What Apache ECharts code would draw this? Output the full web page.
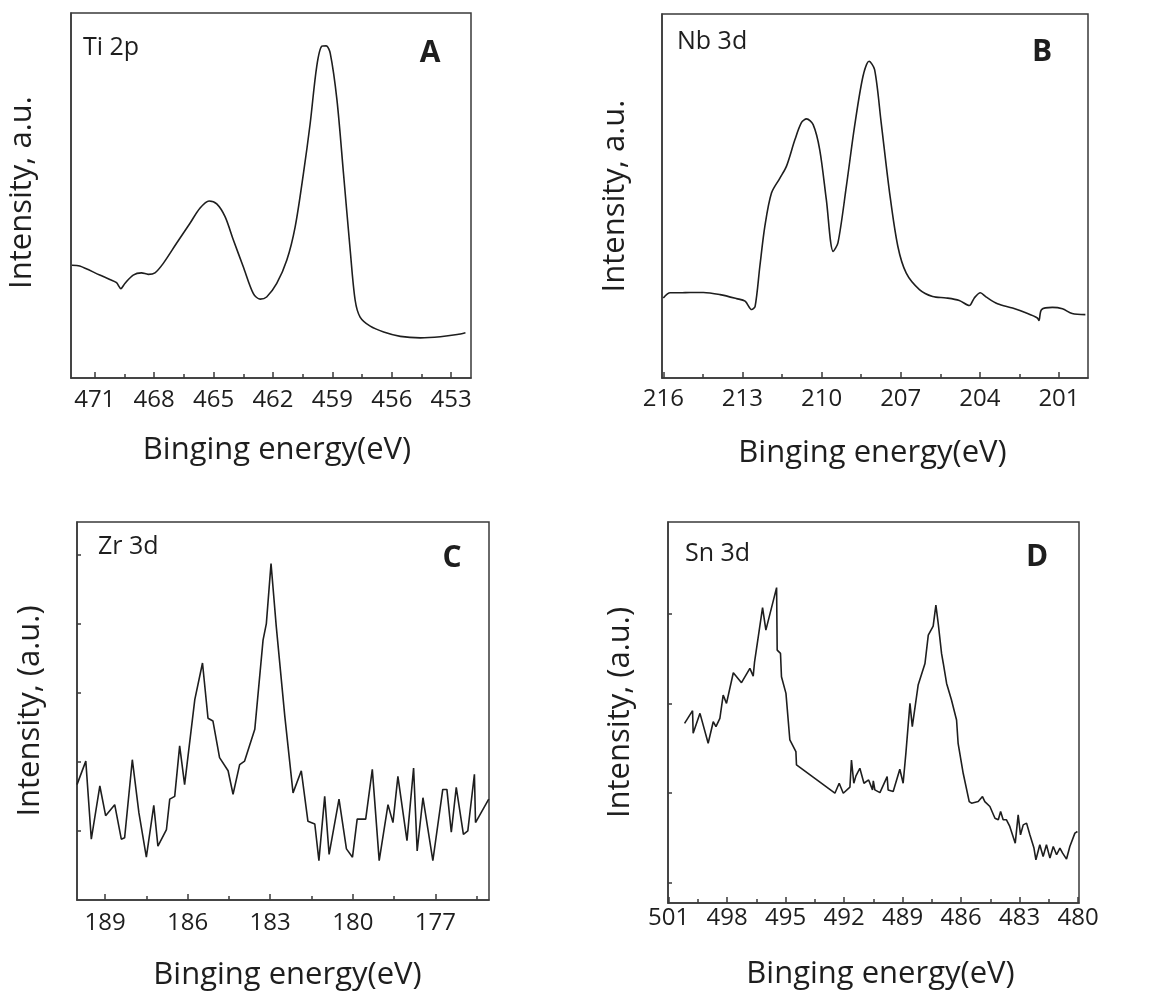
<!DOCTYPE html>
<html>
<head>
<meta charset="utf-8">
<script src="https://cdn.jsdelivr.net/npm/echarts@6/dist/echarts.min.js"></script>
<style>html,body{margin:0;padding:0;background:#fff}#c{width:1161px;height:992px}</style>
</head>
<body>
<div id="c"></div>
<script>
// ---- Panel A: Ti 2p ----
const tiEnergy = [472.15,471.76,470.75,470.24,469.9,469.68,469.48,469.06,468.64,468.3,467.96,467.54,466.87,466.19,465.69,465.23,464.84,464.42,464.0,463.5,462.99,462.65,462.32,461.81,461.3,460.88,460.46,460.12,459.79,459.53,459.31,459.11,458.77,458.44,458.1,457.85,457.6,457.09,456.41,455.57,454.56,453.55,452.7,452.28];
const tiIntensity = [30.9,30.7,28.2,27.0,26.1,24.5,25.9,28.2,28.8,28.4,28.8,31.4,36.9,42.4,46.5,48.5,47.7,44.2,37.8,30.5,23.1,21.6,22.2,25.9,32.3,41.4,56.1,69.8,85.4,90.9,91.0,89.0,76.2,56.1,35.0,21.3,16.7,14.2,12.6,11.4,11.0,11.3,11.9,12.4];
const tiTicks = [471,468,465,462,459,456,453];
const tiMinor = [469.5,466.5,463.5,460.5,457.5,454.5];

// ---- Panel B: Nb 3d ----
const nbEnergy = [216.0,215.74,215.36,214.98,214.48,213.85,213.22,212.9,212.65,212.52,212.34,212.15,211.9,211.58,211.33,211.01,210.76,210.57,210.32,210.07,209.82,209.56,209.38,209.06,208.75,208.43,208.2,207.99,207.74,207.42,207.11,206.79,206.29,205.79,205.28,204.78,204.4,204.21,203.98,203.77,203.33,202.76,202.26,201.82,201.76,201.66,201.25,200.87,200.5,200.0];
const nbIntensity = [22.0,23.4,23.4,23.5,23.5,22.9,21.8,21.1,18.8,19.7,30.7,41.7,50.8,54.9,58.2,65.5,70.2,71.2,69.6,62.7,49.0,34.8,37.1,52.7,69.1,82.9,87.0,84.7,70.1,50.8,36.2,28.8,24.3,22.4,22.0,21.3,19.9,22.0,23.4,22.3,20.4,19.2,17.9,16.5,15.8,18.8,19.4,19.0,17.7,17.4];
const nbTicks = [216,213,210,207,204,201];
const nbMinor = [214.5,211.5,208.5,205.5,202.5];

// ---- Panel C: Zr 3d ----
const zrEnergy = [190.02,189.7,189.5,189.19,188.98,188.65,188.41,188.29,188.01,187.77,187.5,187.23,187.08,186.77,186.65,186.47,186.29,186.11,185.74,185.46,185.26,185.08,184.84,184.53,184.35,184.11,183.93,183.56,183.26,183.14,182.97,182.78,182.47,182.17,181.87,181.63,181.38,181.23,181.02,180.86,180.5,180.23,180.01,179.84,179.53,179.29,179.04,178.72,178.54,178.36,178.03,177.79,177.66,177.45,177.09,176.73,176.58,176.42,176.24,175.98,175.82,175.58,175.54,175.06];
const zrIntensity = [1.67,2.01,0.88,1.65,1.22,1.38,0.88,0.90,2.03,1.26,0.62,1.37,0.78,1.02,1.46,1.5,2.23,1.67,2.9,3.43,2.63,2.59,2.06,1.87,1.53,1.96,2.01,2.47,3.76,4.0,4.87,3.96,2.66,1.55,1.87,1.14,1.10,0.57,1.5,0.66,1.46,0.74,0.62,1.17,1.17,1.89,0.57,1.38,1.12,1.79,0.86,1.91,0.71,1.48,0.57,1.6,1.6,0.98,1.63,0.95,1.0,1.82,1.12,1.46];
const zrTicks = [189,186,183,180,177];
const zrMinor = [187.5,184.5,181.5,178.5,175.5];
const zrYTicks = [1,2,3,4,5];

// ---- Panel D: Sn 3d ----
const snEnergy = [500.18,499.77,499.74,499.39,498.97,498.71,498.57,498.37,498.2,498.03,497.68,497.26,496.83,496.66,496.59,496.18,496.01,495.46,495.43,495.26,495.21,494.98,494.78,494.47,494.44,492.47,492.25,492.04,491.7,491.62,491.5,491.39,491.19,490.98,490.74,490.54,490.5,490.42,490.16,489.79,489.74,489.48,489.14,488.97,488.83,488.62,488.5,488.2,487.85,487.68,487.43,487.29,487.17,487.0,486.91,486.74,486.49,486.23,486.15,485.89,485.58,485.46,485.12,484.9,484.78,484.52,484.26,484.09,483.97,483.84,483.67,483.5,483.22,483.07,482.95,482.81,482.64,482.47,482.26,482.16,481.96,481.79,481.62,481.44,481.27,481.1,480.93,480.79,480.59,480.42,480.16,480.03];
const snIntensity = [1.778,1.919,1.667,1.889,1.556,1.796,1.741,1.833,2.093,2.0,2.341,2.23,2.389,2.304,2.463,3.067,2.815,3.289,2.593,2.556,2.296,2.111,1.593,1.463,1.315,1.0,1.111,1.0,1.067,1.370,1.111,1.193,1.278,1.111,1.148,1.037,1.137,1.037,1.007,1.185,1.037,1.019,1.267,1.111,1.444,2.0,1.741,2.204,2.444,2.759,2.859,3.093,2.889,2.556,2.444,2.222,2.037,1.815,1.556,1.222,0.907,0.889,0.907,0.963,0.907,0.852,0.722,0.704,0.796,0.704,0.704,0.63,0.444,0.759,0.537,0.648,0.667,0.537,0.389,0.259,0.426,0.296,0.426,0.278,0.407,0.315,0.389,0.333,0.267,0.407,0.556,0.574];
const snTicks = [501,498,495,492,489,486,483,480];
const snMinor = [499.5,496.5,493.5,490.5,487.5,484.5,481.5];
const snYTicks = [0,1,2,3];

const xTitle = 'Binging energy(eV)';
const FONT = '"Open Sans", "Noto Sans", sans-serif';
const INK = '#1e1e1e';
const FRAME = '#3a3a3a';

function pairs(xs, ys) { return xs.map((x, i) => [x, ys[i]]); }

const grids = [
  {left: 71, top: 13, width: 400, height: 365},
  {left: 662, top: 14, width: 426, height: 364},
  {left: 77, top: 522, width: 412, height: 379},
  {left: 668, top: 522, width: 411, height: 381}
].map(g => Object.assign(g, {show: true, borderColor: FRAME, borderWidth: 1.5, backgroundColor: 'transparent'}));

function majorX(gi, min, max, ticks, margin, nameGap, pad) {
  return {
    type: 'value', gridIndex: gi, inverse: true, min: min, max: max, position: 'bottom',
    name: xTitle, nameLocation: 'middle', nameGap: nameGap,
    nameTextStyle: {fontFamily: FONT, fontSize: 31, color: INK, padding: pad},
    axisLine: {show: true, onZero: false, lineStyle: {color: FRAME, width: 1.5}},
    axisTick: {show: true, inside: true, length: 6, customValues: ticks, lineStyle: {color: FRAME, width: 1.5}},
    axisLabel: {show: true, customValues: ticks, margin: margin, fontFamily: FONT, fontSize: 24, color: INK},
    splitLine: {show: false}
  };
}
function minorX(gi, min, max, ticks) {
  return {
    type: 'value', gridIndex: gi, inverse: true, min: min, max: max, position: 'bottom',
    axisLine: {show: false, onZero: false},
    axisTick: {show: true, inside: true, length: 4, customValues: ticks, lineStyle: {color: FRAME, width: 1.5}},
    axisLabel: {show: false},
    splitLine: {show: false}
  };
}
function yAx(gi, min, max, name, nameGap, pad, ticks) {
  return {
    type: 'value', gridIndex: gi, min: min, max: max,
    name: name, nameLocation: 'middle', nameGap: nameGap,
    nameTextStyle: {fontFamily: FONT, fontSize: 31, color: INK, padding: pad},
    axisLine: {show: true, onZero: false, lineStyle: {color: FRAME, width: 1.5}},
    axisTick: ticks ? {show: true, inside: true, length: 4, customValues: ticks, lineStyle: {color: FRAME, width: 1.5}} : {show: false},
    axisLabel: {show: false},
    splitLine: {show: false}
  };
}

const xAxes = [
  majorX(0, 452, 472.2, tiTicks, 10, 57, [0, 0, 0, 12]), minorX(0, 452, 472.2, tiMinor),
  majorX(1, 199.9, 216.05, nbTicks, 9, 60, [0, 5, 0, 0]), minorX(1, 199.9, 216.05, nbMinor),
  majorX(2, 175.05, 190.02, zrTicks, 11, 60, [0, 0, 0, 9]), minorX(2, 175.05, 190.02, zrMinor),
  majorX(3, 479.95, 501.03, snTicks, 3, 56, [0, 0, 0, 14]), minorX(3, 479.95, 501.03, snMinor)
];
const yAxes = [
  yAx(0, 0, 100, 'Intensity, a.u.', 33, [0, 0, 0, 6], null),
  yAx(1, 0, 100, 'Intensity, a.u.', 31, [0, 0, 0, 0], null),
  yAx(2, 0, 5.47, 'Intensity, (a.u.)', 31, [0, 0, 0, 0], zrYTicks),
  yAx(3, -0.222, 4.019, 'Intensity, (a.u.)', 32, [0, 0, 0, 0], snYTicks)
];

function lineSeries(idx, data, smooth) {
  return {
    type: 'line', xAxisIndex: idx * 2, yAxisIndex: idx, data: data,
    showSymbol: false, smooth: smooth, silent: true,
    lineStyle: {color: INK, width: 1.6}
  };
}

function label(text, x, y, size, bold, align) {
  return {
    type: 'text', x: x, y: y, silent: true,
    style: {text: text, x: 0, y: 0, fill: INK, fontFamily: FONT, fontSize: size,
      fontWeight: bold ? 'bold' : 'normal', textAlign: align, textVerticalAlign: 'middle'}
  };
}

const chart = echarts.init(document.getElementById('c'), null, {renderer: 'canvas'});
chart.setOption({
  animation: false,
  backgroundColor: '#fff',
  grid: grids,
  xAxis: xAxes,
  yAxis: yAxes,
  series: [
    lineSeries(0, pairs(tiEnergy, tiIntensity), 0.3),
    lineSeries(1, pairs(nbEnergy, nbIntensity), 0.3),
    lineSeries(2, pairs(zrEnergy, zrIntensity), false),
    lineSeries(3, pairs(snEnergy, snIntensity), false)
  ],
  graphic: [
    label('Ti 2p', 83, 48, 25, false, 'left'),
    label('A', 430, 53, 30, true, 'center'),
    label('Nb 3d', 677, 42, 25, false, 'left'),
    label('B', 1042, 52, 30, true, 'center'),
    label('Zr 3d', 98, 547, 25, false, 'left'),
    label('C', 452, 558, 30, true, 'center'),
    label('Sn 3d', 685, 554, 25, false, 'left'),
    label('D', 1037, 557, 30, true, 'center')
  ]
});
</script>
</body>
</html>
